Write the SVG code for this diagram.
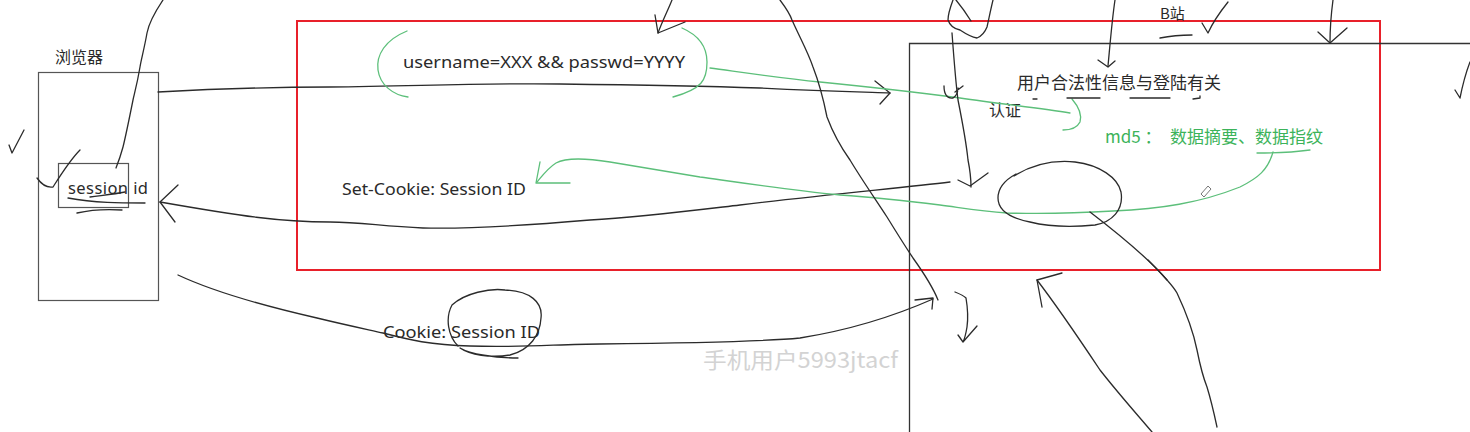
<svg xmlns="http://www.w3.org/2000/svg" width="1470" height="432" viewBox="0 0 1470 432">
<style>
.t{font-family:"Noto Sans CJK SC","Noto Sans",sans-serif;fill:#2a2a2a;}
.l{font-family:"Noto Sans","Noto Sans CJK SC",sans-serif;fill:#2a2a2a;font-size:16.5px;}
.g{font-family:"Noto Sans CJK SC","Noto Sans",sans-serif;fill:#3cb35a;}
.ink{fill:none;stroke:#2b2b2b;stroke-width:1.3;stroke-linecap:round;stroke-linejoin:round;}
.grn{fill:none;stroke:#5cbf7a;stroke-width:1.3;stroke-linecap:round;stroke-linejoin:round;}
.box{fill:none;stroke:#555;stroke-width:1.2;}
</style>
<rect width="1470" height="432" fill="#ffffff"/>

<g id="browser">
<rect class="box" x="38.5" y="72.5" width="120" height="228"/>
<text class="t" x="55" y="63" font-size="16">浏览器</text>
</g>
<g id="session-id">
<rect class="box" x="58.5" y="163.5" width="70" height="44"/>
<text class="l" x="68" y="194" textLength="80" lengthAdjust="spacing">session id</text>
</g>
<g id="scope">
<rect x="297" y="21" width="1083" height="249" fill="none" stroke="#e8202a" stroke-width="2"/>
</g>
<g id="server">
<path d="M909.5 432 V43.5 H1470" fill="none" stroke="#333" stroke-width="1.3"/>
<text class="t" x="1160" y="19" font-size="15">B站</text>
<text class="t" x="1017" y="89" font-size="17">用户合法性信息与登陆有关</text>
<text class="t" x="989" y="116" font-size="16">认证</text>
<text class="g" x="1105" y="143" font-size="17">md5 ：</text>
<text class="g" x="1170" y="143" font-size="17">数据摘要、数据指纹</text>
</g>
<g id="labels">
<text class="l" x="403" y="68" textLength="282" lengthAdjust="spacingAndGlyphs">username=XXX &amp;&amp; passwd=YYYY</text>
<text class="l" x="342" y="195" textLength="184" lengthAdjust="spacingAndGlyphs">Set-Cookie: Session ID</text>
<text class="l" x="383" y="338" textLength="157" lengthAdjust="spacingAndGlyphs">Cookie: Session ID</text>
<text x="703" y="368" font-size="22" fill="#d3d3d3" font-family="Noto Sans CJK SC,Noto Sans,sans-serif" textLength="195" lengthAdjust="spacingAndGlyphs">手机用户5993jtacf</text>
</g>

<g id="connectors">
<!-- request -->
<path class="ink" d="M158 92 C230 88 280 87 330 87 C420 86 480 83 560 84 C640 85 700 86 760 88 C820 91 860 92 890 93"/>
<path class="ink" d="M875 81 L890 93 L880 104"/>
<!-- response -->
<path class="ink" d="M950 182 C900 188 820 195 740 205 C680 212 640 217 590 220 C520 226 460 229 423 228 C380 226 360 222 330 222 C280 222 240 216 160 202"/>
<path class="ink" d="M178 185 L160 202 L175 222"/>
<!-- cookie -->
<path class="ink" d="M178 275 C210 290 260 305 317 318 C350 326 370 330 383 333 C410 340 430 345 470 346 C520 348 560 344 600 344 C690 343 760 342 800 338 C850 330 890 318 933 299"/>
<path class="ink" d="M915 300 L933 298 L932 309"/>
<!-- circle around Session -->
<path class="ink" d="M458 346 C448 336 445 318 452 305 C465 293 490 288 505 290 C530 291 543 302 541 318 C540 335 530 350 510 355 C490 358 470 355 460 348 C470 354 495 358 518 358"/>
<!-- green brackets and notes -->
<path class="grn" d="M407 31 C385 40 376 55 378 70 C380 85 393 95 408 97"/>
<path class="grn" d="M682 28 C698 35 707 47 707 62 C707 80 702 89 673 97"/>
<path class="grn" d="M710 68 C740 72 780 78 820 82 C880 88 930 94 960 98 C1000 104 1040 108 1070 113"/>
<path class="grn" d="M1072 99 C1078 106 1082 115 1080 122 C1077 128 1070 130 1063 130"/>
<path class="grn" d="M1257 153 C1275 153 1295 152 1310 150"/>
<path class="grn" d="M1273 152 C1268 170 1258 178 1240 187 C1200 203 1160 209 1113 211 C1080 213 1040 214 1007 213 C980 211 963 208 940 205 C900 200 870 197 840 195 C790 190 750 184 700 177 C670 172 640 167 610 162 C585 158 565 158 556 163 C548 168 542 176 537 182"/>
<path class="grn" d="M540 162 L536 183 L570 183"/>
<!-- ellipse in server -->
<path class="ink" d="M1014 176 C1035 163 1055 160 1075 162 C1100 165 1118 178 1121 192 C1124 210 1112 222 1095 225 C1075 227 1050 227 1030 222 C1010 218 998 210 998 198 C998 188 1005 180 1016 174"/>
<path class="ink" d="M1090 212 C1120 235 1150 260 1167 280"/>
<!-- long strokes -->
<path class="ink" d="M163 0 C155 12 149 22 147 33 C144 50 141 60 140 67 C137 85 134 95 133 100 C129 120 126 135 123 147 C120 158 118 163 116 168"/>
<path class="ink" d="M9 145 L12 153 L24 130"/>
<path class="ink" d="M37 178 C42 185 47 188 53 187 C60 176 70 160 80 150"/>
<path class="ink" d="M68 198 C95 203 120 203 145 203"/>
<path class="ink" d="M77 213 C90 210 108 209 122 210"/>
<path class="ink" d="M90 197 C105 195 115 194 125 192"/>
<path class="ink" d="M672 0 C668 10 662 22 658 33"/>
<path class="ink" d="M655 15 L658 33 L685 22"/>
<path class="ink" d="M780 0 C786 8 790 14 792 20 C800 38 808 52 813 67 C820 85 824 102 827 117 C833 133 840 146 850 160 C862 180 876 200 887 217 C895 230 903 243 913 258 C923 272 932 285 938 300"/>
<path class="ink" d="M953 0 C950 8 948 14 948 20 C950 26 955 29 960 30 C966 34 971 37 977 38 C982 36 985 32 987 27 C989 18 991 8 993 0"/>
<path class="ink" d="M956 0 C961 6 966 13 971 21"/>
<path class="ink" d="M952 33 C954 60 956 85 958 100 C962 120 966 140 968 160 C970 170 971 178 971 187"/>
<path class="ink" d="M958 180 L970 186 L988 173"/>
<path class="ink" d="M944 86 C944 94 947 99 953 98 C956 96 958 92 958 88 M955 92 L963 86"/>
<path class="ink" d="M1115 0 C1112 20 1110 45 1108 66"/>
<path class="ink" d="M1098 60 L1108 67 L1115 61"/>
<path class="ink" d="M1033 99 L1037 99 M1067 98 L1100 98 M1130 98 L1170 98 M1193 99 L1200 98 L1200 96"/>
<path class="ink" d="M1228 2 C1220 12 1213 22 1208 33 L1202 23"/>
<path class="ink" d="M1160 38 C1170 36 1182 35 1192 35"/>
<path class="ink" d="M1333 0 C1331 15 1330 30 1330 43"/>
<path class="ink" d="M1318 32 L1330 43 L1347 28"/>
<path class="ink" d="M1470 62 C1465 75 1462 88 1460 98 L1455 90"/>
<path class="ink" d="M955 292 C960 294 964 296 966 298 C968 310 968 320 967 327 C966 333 965 338 963 342 L958 335 M963 342 L977 326"/>
<path class="ink" d="M1148 260 C1160 272 1172 284 1177 293 C1185 310 1193 330 1197 350 C1200 365 1203 377 1207 387 C1211 400 1214 413 1217 427"/>
<path class="ink" d="M1037 280 C1060 310 1080 340 1100 370 C1118 393 1135 412 1152 432"/>
<path class="ink" d="M1062 273 L1037 280 L1042 307"/>
<path d="M1201 194 L1208 186 L1211 189 L1204 197 Z" fill="none" stroke="#777" stroke-width="1"/>
</g>
</svg>
